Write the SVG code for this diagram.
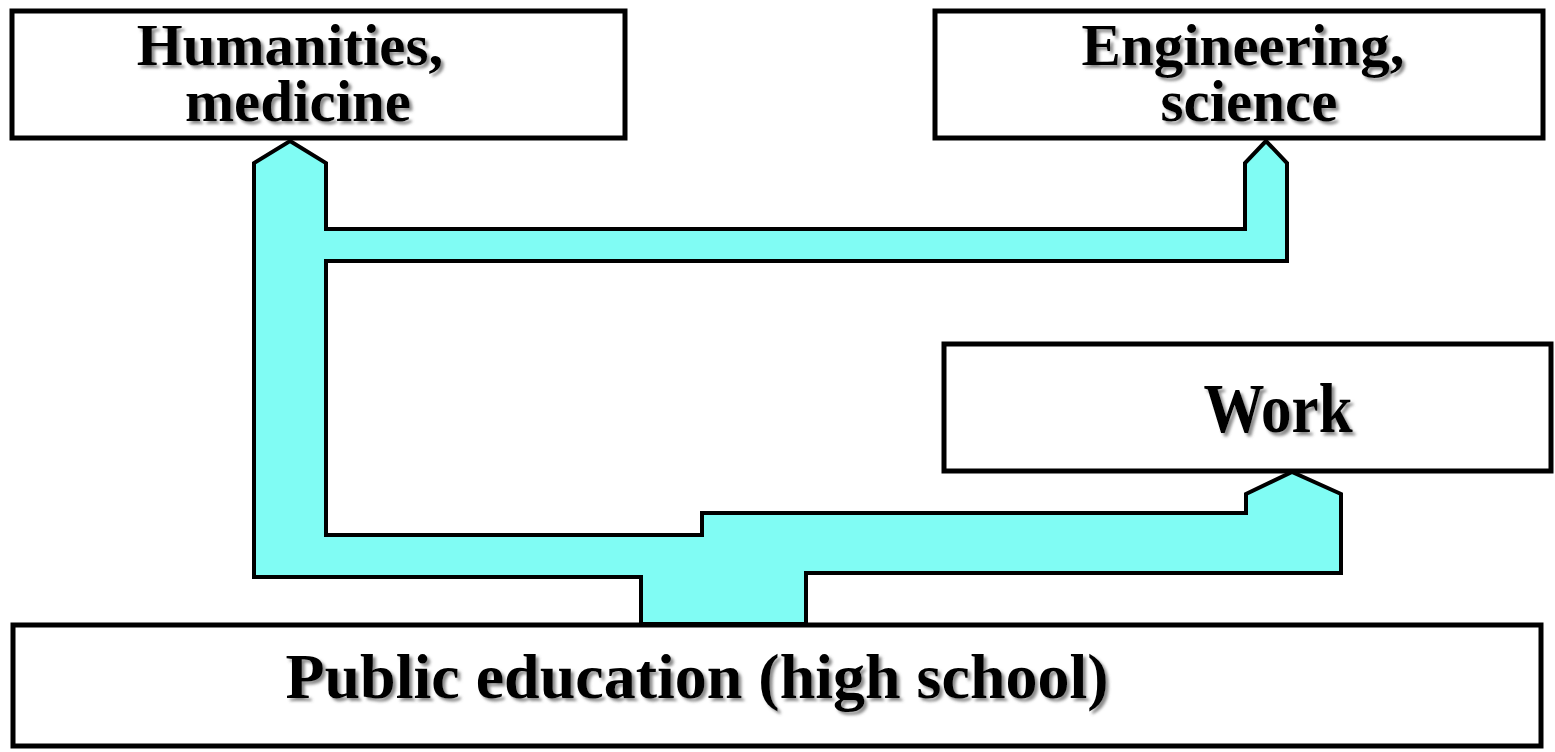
<svg xmlns="http://www.w3.org/2000/svg" width="1555" height="752" viewBox="0 0 1555 752">
<defs>
<filter id="sh" x="-10%" y="-20%" width="120%" height="150%">
<feDropShadow dx="3" dy="3" stdDeviation="1.5" flood-color="#666" flood-opacity="0.75"/>
</filter>
</defs>
<style>
.box{fill:#fff;stroke:#000;stroke-width:5}
.lbl{font-family:"Liberation Serif","Times New Roman",serif;font-weight:bold;fill:#000;text-anchor:middle;filter:url(#sh)}
.flow{fill:#80fcf4;stroke:#000;stroke-width:4;stroke-linejoin:miter}
</style>
<rect width="1555" height="752" fill="#fff"/>
<g id="humanities">
<rect class="box" x="12" y="11" width="613" height="127"/>
<text class="lbl" x="290" y="65" font-size="59">Humanities,</text>
<text class="lbl" x="298" y="121" font-size="59">medicine</text>
</g>
<g id="engineering">
<rect class="box" x="935" y="11" width="608" height="127"/>
<text class="lbl" x="1243" y="65" font-size="59">Engineering,</text>
<text class="lbl" x="1249" y="121" font-size="59">science</text>
</g>
<g id="work">
<rect class="box" x="944" y="344" width="607" height="127"/>
<text class="lbl" font-size="61" transform="translate(1278,432) scale(1,1.13)">Work</text>
</g>
<g id="public">
<rect class="box" x="13" y="625" width="1528" height="121"/>
<text class="lbl" x="697" y="698" font-size="64">Public education (high school)</text>
</g>
<g id="connectors">
<path class="flow" d="M290,141 L326,163 L326,229 L1245,229 L1245,163 L1266,141 L1287,163 L1287,261 L326,261 L326,535 L702,535 L702,513 L1246,513 L1246,494 L1292,472 L1341,494 L1341,573 L806,573 L806,624 L641,624 L641,577 L254,577 L254,163 Z"/>
</g>
</svg>
